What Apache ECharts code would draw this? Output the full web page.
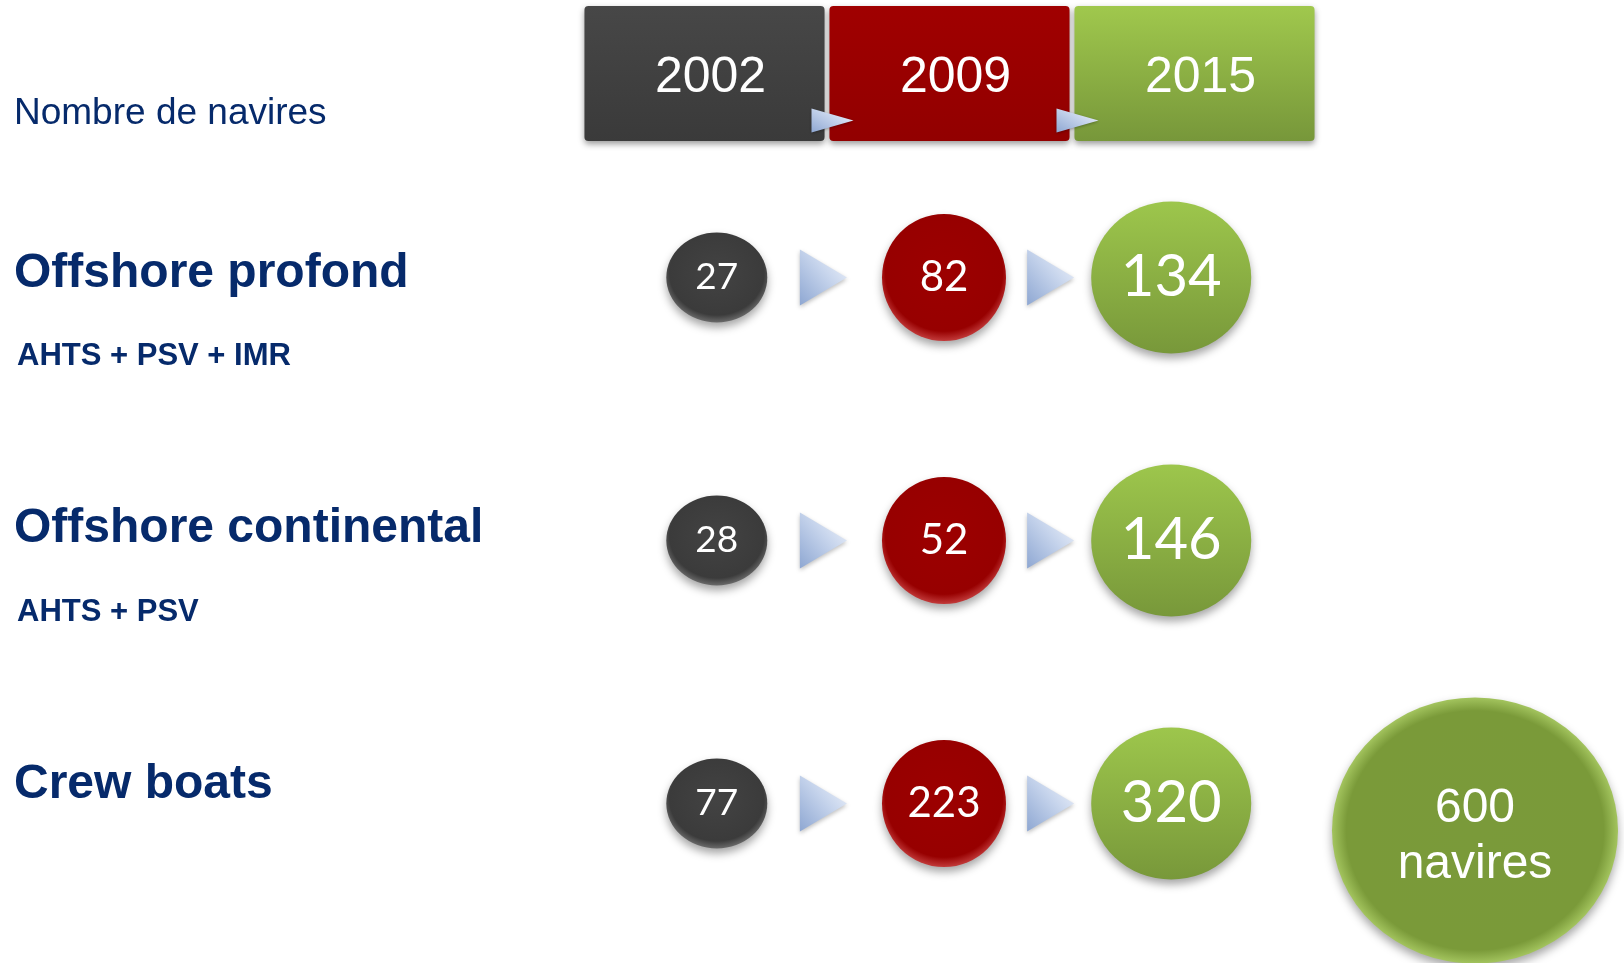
<!DOCTYPE html>
<html>
<head>
<meta charset="utf-8">
<script src="https://cdn.jsdelivr.net/npm/echarts@6/dist/echarts.min.js"></script>
<style>
html,body{margin:0;padding:0;background:#fff;}
#main{width:1624px;height:963px;}
</style>
</head>
<body>
<div id="main"></div>
<script>
// ---- data ----
const years = ['2002', '2009', '2015'];
const rows = ['Offshore profond', 'Offshore continental', 'Crew boats'];
const subRows = ['AHTS + PSV + IMR', 'AHTS + PSV', ''];
const v2002 = [27, 28, 77];
const v2009 = [82, 52, 223];
const v2015 = [134, 146, 320];
const totalValue = 600;
const totalUnit = 'navires';
const headerTitle = 'Nombre de navires';

// ---- styles ----
const NAVY = '#062a6b';
const lg = (a, b) => new echarts.graphic.LinearGradient(0, 0, 0, 1, [{offset: 0, color: a}, {offset: 1, color: b}]);
const boxColors = [lg('#474747', '#3a3a3a'), lg('#a00000', '#920000'), lg('#a0c84d', '#77973a')];
const circleColors = [
  new echarts.graphic.RadialGradient(0.5, 0.45, 0.55, [{offset: 0, color: '#434343'}, {offset: 0.85, color: '#3b3b3b'}, {offset: 1, color: '#6a6a6a'}]),
  new echarts.graphic.RadialGradient(0.5, 0.45, 0.55, [{offset: 0, color: '#9c0000'}, {offset: 0.86, color: '#970000'}, {offset: 1, color: '#c23a3a'}]),
  lg('#9dc64c', '#78983a')
];
const circleSizes = [[101, 90], [124, 127], [160, 152]];
const labelSizes = [37, 42, 58];
const arrowColor = new echarts.graphic.LinearGradient(0, 0, 1, 1, [{offset: 0, color: '#f4f7fd'}, {offset: 0.45, color: '#c6d4ec'}, {offset: 1, color: '#8ea7d2'}]);

// circle grid categories: years with arrow slots between
const xCats = [];
years.forEach((y, i) => { xCats.push(y); if (i < years.length - 1) xCats.push('→' + years[i + 1]); });

const yearSeries = [v2002, v2009, v2015].map((vals, k) => ({
  type: 'scatter',
  xAxisIndex: 1, yAxisIndex: 1,
  data: vals.map((v, i) => [years[k], rows[i], v]),
  symbol: 'circle',
  symbolSize: circleSizes[k],
  itemStyle: {color: circleColors[k], shadowBlur: 8, shadowOffsetY: 5, shadowColor: 'rgba(0,0,0,0.35)', opacity: 1},
  label: {show: true, position: 'inside', formatter: p => String(p.value[2]), color: '#fff',
          fontFamily: 'Lato', fontSize: labelSizes[k]},
  emphasis: {disabled: true},
  silent: true, z: 3
}));

const arrowSeries = {
  type: 'scatter',
  xAxisIndex: 1, yAxisIndex: 1,
  data: [].concat(...years.slice(1).map(y => rows.map(r => ['→' + y, r]))),
  symbol: 'triangle',
  symbolRotate: -90,
  symbolSize: [56, 47],
  symbolOffset: [-7, 0],
  itemStyle: {color: arrowColor, opacity: 1, shadowBlur: 4, shadowOffsetY: 2, shadowColor: 'rgba(0,0,0,0.25)'},
  emphasis: {disabled: true},
  silent: true, z: 3
};

const option = {
  backgroundColor: '#ffffff',
  animation: false,
  title: {
    text: headerTitle, left: 14, top: 95, padding: 0,
    textStyle: {color: NAVY, fontFamily: 'Liberation Sans', fontWeight: 'normal', fontSize: 37, lineHeight: 37}
  },
  grid: [
    {left: 582, top: 6, width: 735, height: 135},          // header boxes
    {left: 660, top: 146, width: 568, height: 789},        // circles
    {left: 1332, top: 698, width: 286, height: 266},       // total
    {left: 14, top: 184, width: 400, height: 766}          // row labels
  ],
  xAxis: [
    {gridIndex: 0, type: 'category', data: years, show: false},
    {gridIndex: 1, type: 'category', data: xCats, show: false},
    {gridIndex: 2, type: 'category', data: [String(totalValue)], show: false},
    {gridIndex: 3, type: 'value', show: false, min: 0, max: 1}
  ],
  yAxis: [
    {gridIndex: 0, type: 'value', min: 0, max: 1, show: false},
    {gridIndex: 1, type: 'category', data: rows, inverse: true, show: false},
    {gridIndex: 2, type: 'category', data: ['Total'], show: false},
    {gridIndex: 3, type: 'category', data: rows, inverse: true,
     axisLine: {show: false}, axisTick: {show: false}, splitLine: {show: false},
     axisLabel: {
       interval: 0, margin: 0, align: 'left', verticalAlign: 'middle',
       formatter: (val, idx) => '{t|' + val + '}\n{s|' + (subRows[idx] || ' ') + '}',
       rich: {
         t: {fontFamily: 'Liberation Sans', fontWeight: 'bold', fontSize: 48, lineHeight: 90, color: NAVY},
         s: {fontFamily: 'Liberation Sans', fontWeight: 'bold', fontSize: 31, lineHeight: 76, color: NAVY, padding: [0, 0, 0, 3]}
       }
     }}
  ],
  series: [
    {
      type: 'bar', xAxisIndex: 0, yAxisIndex: 0,
      data: years.map((y, i) => ({value: 1, itemStyle: {color: boxColors[i]}})),
      barCategoryGap: '2%',
      itemStyle: {borderRadius: 4, shadowBlur: 6, shadowOffsetY: 3, shadowColor: 'rgba(0,0,0,0.4)'},
      label: {show: true, position: 'inside', formatter: p => p.name, color: '#fff',
              fontFamily: 'Liberation Sans', fontSize: 50, offset: [6, 5]},
      emphasis: {disabled: true},
      silent: true, z: 2
    },
    {
      type: 'scatter', xAxisIndex: 0, yAxisIndex: 0,
      data: years.slice(0, -1).map(y => [y, 0.5]),
      symbol: 'triangle', symbolRotate: -90, symbolSize: [24, 42], symbolOffset: [128, 47],
      itemStyle: {color: arrowColor, opacity: 1, shadowBlur: 3, shadowOffsetY: 1, shadowColor: 'rgba(0,0,0,0.3)'},
      emphasis: {disabled: true},
      silent: true, z: 5
    },
    ...yearSeries,
    arrowSeries,
    {
      type: 'scatter', xAxisIndex: 2, yAxisIndex: 2,
      data: [[String(totalValue), 'Total', totalValue]],
      symbol: 'circle', symbolSize: [286, 266],
      itemStyle: {
        color: new echarts.graphic.RadialGradient(0.5, 0.5, 0.5, [{offset: 0, color: '#7a9a3a'}, {offset: 0.9, color: '#7a9a39'}, {offset: 1, color: '#a3c45e'}]),
        opacity: 1, shadowBlur: 10, shadowOffsetY: 5, shadowColor: 'rgba(0,0,0,0.35)'
      },
      label: {show: true, position: 'inside', formatter: p => p.value[2] + '\n' + totalUnit, color: '#fff',
              fontFamily: 'Liberation Sans', fontSize: 48, lineHeight: 56, offset: [0, 6]},
      emphasis: {disabled: true},
      silent: true, z: 3
    },
    {type: 'scatter', xAxisIndex: 3, yAxisIndex: 3, data: [], silent: true}
  ]
};

const chart = echarts.init(document.getElementById('main'), null, {renderer: 'canvas'});
chart.setOption(option);
</script>
</body>
</html>
